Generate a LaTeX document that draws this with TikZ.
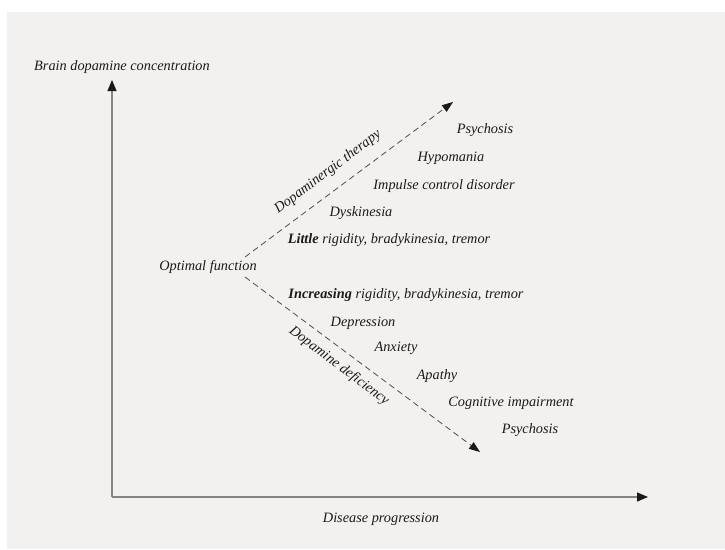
\documentclass[tikz,border=0pt]{standalone}
\usepackage{fontspec}
\setmainfont{Liberation Serif}
\usetikzlibrary{arrows.meta}
\definecolor{bg}{HTML}{F2F1EF}
\definecolor{axisgray}{HTML}{858585}
\definecolor{txt}{HTML}{1A1A1A}
\tikzset{
  lbl/.style={font=\itshape\fontsize{14.3}{16}\selectfont, text=txt, inner sep=0pt},
  axisline/.style={draw=axisgray, line width=1.2pt, -{Triangle[length=11pt,width=9pt,fill=black!90,color=black!90]}},
  dashline/.style={draw=black!70, line width=0.8pt, dash pattern=on 6pt off 4pt, -{Triangle[length=11pt,width=8pt,fill=black!90,color=black!90]}},
}
\begin{document}
\begin{tikzpicture}[x=1pt,y=-1pt]
\useasboundingbox (0,0) rectangle (725,549);
\fill[white] (0,0) rectangle (725,549);
\fill[bg] (7,12) rectangle (725,549);
% axes
\coordinate (o) at (112,497);
\coordinate (ytop) at (112,80);
\coordinate (xend) at (648,497);
\draw[axisline] (o) -- (ytop);
\draw[axisline] (o) -- (xend);
% dashed arrows
\coordinate (us) at (245,257);
\coordinate (ue) at (453,102);
\coordinate (ls) at (245,277);
\coordinate (le) at (480,452);
\draw[dashline] (us) -- (ue);
\draw[dashline] (ls) -- (le);
% labels
\node[lbl] (ylab) at (122,67) {Brain dopamine concentration};
\node[lbl] (xlab) at (381,519) {Disease progression};
\node[lbl] (opt) at (208,267) {Optimal function};
\node[lbl, rotate=37] (ther) at (328,172) {Dopaminergic therapy};
\node[lbl, rotate=-37] (defi) at (339,366) {Dopamine deficiency};
\node[lbl] (u1) at (485,130) {Psychosis};
\node[lbl] (u2) at (451,158) {Hypomania};
\node[lbl] (u3) at (444,186) {Impulse control disorder};
\node[lbl] (u4) at (361,213) {Dyskinesia};
\node[lbl] (u5) at (389,240) {\textbf{Little} rigidity, bradykinesia, tremor};
\node[lbl] (l1) at (406,295) {\textbf{Increasing} rigidity, bradykinesia, tremor};
\node[lbl] (l2) at (363,323) {Depression};
\node[lbl] (l3) at (396,348) {Anxiety};
\node[lbl] (l4) at (437,376) {Apathy};
\node[lbl] (l5) at (511,403) {Cognitive impairment};
\node[lbl] (l6) at (530,430) {Psychosis};
\end{tikzpicture}
\end{document}
